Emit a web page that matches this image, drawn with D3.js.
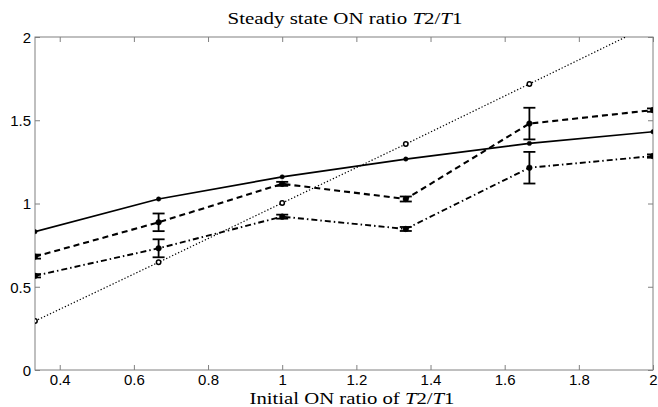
<!DOCTYPE html>
<html><head><meta charset="utf-8">
<script src="https://cdn.jsdelivr.net/npm/d3@7"></script>
<style>body{margin:0;background:#fff}</style>
</head><body>
<svg id="c" width="658" height="407"></svg>
<script>
const xValues = [1/3, 2/3, 1, 4/3, 5/3, 2];
const solidY = [0.831, 1.027, 1.160, 1.267, 1.361, 1.431];
const dashedY = [0.681, 0.887, 1.118, 1.027, 1.480, 1.561];
const dashedErr = [0.012, 0.053, 0.012, 0.015, 0.095, 0.010];
const dashDotY = [0.566, 0.731, 0.921, 0.847, 1.215, 1.285];
const dashDotErr = [0.010, 0.054, 0.012, 0.012, 0.095, 0.010];
const dottedY = [0.294, 0.647, 1.003, 1.357, 1.718, 2.08];
const xTicks = [0.4, 0.6, 0.8, 1, 1.2, 1.4, 1.6, 1.8, 2];
const yTicks = [0, 0.5, 1, 1.5, 2];

const svg = d3.select("#c");
const L = 35, R = 653, T = 37, B = 370;
const x = d3.scaleLinear().domain([1/3, 2]).range([L, R]);
const y = d3.scaleLinear().domain([0, 2]).range([B, T]);
const axisColor = "#808080";

svg.append("defs").append("clipPath").attr("id", "clip")
  .append("rect").attr("x", L).attr("y", T).attr("width", R - L).attr("height", B - T);

const gx = svg.append("g").attr("transform", `translate(0,${B})`)
  .call(d3.axisBottom(x).tickValues(xTicks).tickSize(-5).tickPadding(4).tickFormat(d => String(+d.toFixed(1))));
const gxt = svg.append("g").attr("transform", `translate(0,${T})`)
  .call(d3.axisTop(x).tickValues(xTicks).tickSize(-5).tickFormat(""));
const gy = svg.append("g").attr("transform", `translate(${L},0)`)
  .call(d3.axisLeft(y).tickValues(yTicks).tickSize(-5).tickPadding(4).tickFormat(d => String(+d.toFixed(1))));
const gyr = svg.append("g").attr("transform", `translate(${R},0)`)
  .call(d3.axisRight(y).tickValues(yTicks).tickSize(-5).tickFormat(""));
[gx, gxt, gy, gyr].forEach(g => {
  g.selectAll("path.domain").remove();
  g.selectAll("line").attr("stroke", axisColor);
  g.selectAll("text").attr("fill", "#000").style("font-family", "Liberation Sans, Arial, sans-serif").style("font-size", "15px");
});
gx.selectAll("text").attr("dy", "0.71em");
gy.selectAll("text").attr("dy", "0.36em");

svg.append("rect").attr("x", L).attr("y", T).attr("width", R - L).attr("height", B - T)
  .attr("fill", "none").attr("stroke", axisColor).attr("stroke-width", 1);

const plot = svg.append("g").attr("clip-path", "url(#clip)");
const line = d3.line().x((d, i) => x(xValues[i])).y(d => y(d));

function series(vals, dash, width, errs, r, open) {
  plot.append("path").datum(vals).attr("d", line).attr("fill", "none")
    .attr("stroke", "#000").attr("stroke-width", width).attr("stroke-dasharray", dash);
  if (errs) {
    const g = plot.append("g").attr("stroke", "#000").attr("stroke-width", 1.8);
    vals.forEach((v, i) => {
      const cx = x(xValues[i]);
      g.append("line").attr("x1", cx).attr("x2", cx).attr("y1", y(v - errs[i])).attr("y2", y(v + errs[i]));
      g.append("line").attr("x1", cx - 6).attr("x2", cx + 6).attr("y1", y(v - errs[i])).attr("y2", y(v - errs[i]));
      g.append("line").attr("x1", cx - 6).attr("x2", cx + 6).attr("y1", y(v + errs[i])).attr("y2", y(v + errs[i]));
    });
  }
  plot.append("g").selectAll("circle").data(vals).join("circle")
    .attr("cx", (d, i) => x(xValues[i])).attr("cy", d => y(d)).attr("r", r)
    .attr("fill", open ? "#fff" : "#000").attr("stroke", "#000").attr("stroke-width", open ? 1.5 : 0.5);
}
series(dottedY, "1.3,2", 1.2, null, 2.2, true);
series(solidY, null, 1.7, null, 2.2, false);
series(dashedY, "6,4", 2.1, dashedErr, 2.8, false);
series(dashDotY, "6,3,1.5,3", 1.9, dashDotErr, 2.8, false);

const title = svg.append("text").attr("x", (L + R) / 2 + 1).attr("y", 24).attr("text-anchor", "middle")
  .style("font-family", "Liberation Serif, DejaVu Serif, serif").style("font-size", "17px")
  .attr("textLength", 235).attr("lengthAdjust", "spacingAndGlyphs");
title.append("tspan").text("Steady state ON ratio ");
title.append("tspan").style("font-style", "italic").text("T");
title.append("tspan").text("2/");
title.append("tspan").style("font-style", "italic").text("T");
title.append("tspan").text("1");

const xl = svg.append("text").attr("x", (L + R) / 2 + 8).attr("y", 404).attr("text-anchor", "middle")
  .style("font-family", "Liberation Serif, DejaVu Serif, serif").style("font-size", "17px")
  .attr("textLength", 205).attr("lengthAdjust", "spacingAndGlyphs");
xl.append("tspan").text("Initial ON ratio of ");
xl.append("tspan").style("font-style", "italic").text("T");
xl.append("tspan").text("2/");
xl.append("tspan").style("font-style", "italic").text("T");
xl.append("tspan").text("1");
</script>
</body></html>
